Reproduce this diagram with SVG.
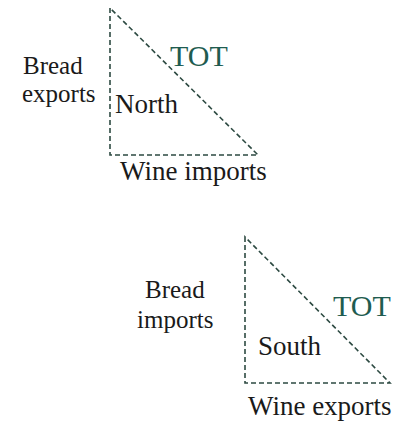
<svg xmlns="http://www.w3.org/2000/svg" width="398" height="424" viewBox="0 0 398 424">
<style>
.t{font-family:"Liberation Serif","Times New Roman",serif;font-size:27px;fill:#1a1a1a}
.s{font-size:25px}
.tot{fill:#1f5c50;font-size:30px}
.edge{fill:none;stroke:#2d4a42;stroke-width:1.6;stroke-dasharray:5 3}
</style>
<rect width="398" height="424" fill="#ffffff"/>
<g id="connectors">
<path class="edge" d="M110,8 L110,155 L258,155 Z"/>
<path class="edge" d="M245,237 L245,383 L390,383 Z"/>
</g>
<g id="north">
<text class="t s" x="23" y="74">Bread</text>
<text class="t s" x="22" y="102">exports</text>
<text class="t" x="115" y="113">North</text>
<text class="t tot" x="170" y="66">TOT</text>
<text class="t" x="120" y="180">Wine imports</text>
</g>
<g id="south">
<text class="t s" x="145" y="298">Bread</text>
<text class="t s" x="137" y="328">imports</text>
<text class="t" x="258" y="355">South</text>
<text class="t tot" x="333" y="316">TOT</text>
<text class="t" x="248" y="415">Wine exports</text>
</g>
</svg>
